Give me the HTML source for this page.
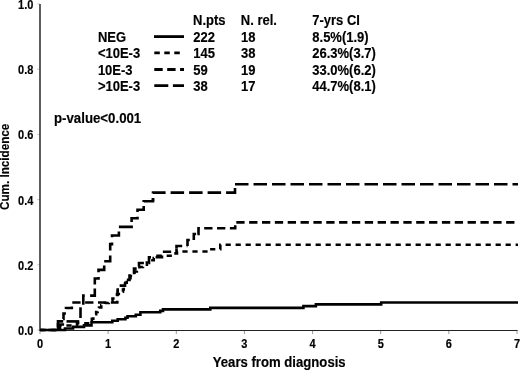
<!DOCTYPE html>
<html><head><meta charset="utf-8"><style>
html,body{margin:0;padding:0;background:#fff;}
svg{display:block;will-change:transform;}
text{font-family:"Liberation Sans",sans-serif;font-weight:bold;fill:#000;stroke:#000;stroke-width:0.15px;}
</style></head><body>
<svg width="520" height="370" viewBox="0 0 520 370">
<rect width="520" height="370" fill="#fff"/>
<line x1="37" x2="40" y1="330.0" y2="330.0" stroke="#ccc" stroke-width="1"/><line x1="37" x2="40" y1="264.8" y2="264.8" stroke="#ccc" stroke-width="1"/><line x1="37" x2="40" y1="199.6" y2="199.6" stroke="#ccc" stroke-width="1"/><line x1="37" x2="40" y1="134.4" y2="134.4" stroke="#ccc" stroke-width="1"/><line x1="37" x2="40" y1="69.2" y2="69.2" stroke="#ccc" stroke-width="1"/><line x1="37" x2="40" y1="4.0" y2="4.0" stroke="#ccc" stroke-width="1"/><line x1="40.0" x2="40.0" y1="330" y2="334" stroke="#999" stroke-width="1"/><line x1="108.1" x2="108.1" y1="330" y2="334" stroke="#999" stroke-width="1"/><line x1="176.3" x2="176.3" y1="330" y2="334" stroke="#999" stroke-width="1"/><line x1="244.4" x2="244.4" y1="330" y2="334" stroke="#999" stroke-width="1"/><line x1="312.6" x2="312.6" y1="330" y2="334" stroke="#999" stroke-width="1"/><line x1="380.7" x2="380.7" y1="330" y2="334" stroke="#999" stroke-width="1"/><line x1="448.8" x2="448.8" y1="330" y2="334" stroke="#999" stroke-width="1"/><line x1="517.0" x2="517.0" y1="330" y2="334" stroke="#999" stroke-width="1"/>
<line x1="40" x2="40" y1="4" y2="330.5" stroke="#181818" stroke-width="1.4"/>
<line x1="39.3" x2="517.5" y1="330.5" y2="330.5" stroke="#222" stroke-width="1.2"/>
<text transform="translate(33.4,335.0) scale(1,1.08)" font-size="11" text-anchor="end" >0.0</text><text transform="translate(33.4,269.8) scale(1,1.08)" font-size="11" text-anchor="end" >0.2</text><text transform="translate(33.4,204.6) scale(1,1.08)" font-size="11" text-anchor="end" >0.4</text><text transform="translate(33.4,139.4) scale(1,1.08)" font-size="11" text-anchor="end" >0.6</text><text transform="translate(33.4,74.2) scale(1,1.08)" font-size="11" text-anchor="end" >0.8</text><text transform="translate(33.4,9.0) scale(1,1.08)" font-size="11" text-anchor="end" >1.0</text><text transform="translate(40.0,348.4) scale(1,1.08)" font-size="11" text-anchor="middle" >0</text><text transform="translate(108.1,348.4) scale(1,1.08)" font-size="11" text-anchor="middle" >1</text><text transform="translate(176.3,348.4) scale(1,1.08)" font-size="11" text-anchor="middle" >2</text><text transform="translate(244.4,348.4) scale(1,1.08)" font-size="11" text-anchor="middle" >3</text><text transform="translate(312.6,348.4) scale(1,1.08)" font-size="11" text-anchor="middle" >4</text><text transform="translate(380.7,348.4) scale(1,1.08)" font-size="11" text-anchor="middle" >5</text><text transform="translate(448.8,348.4) scale(1,1.08)" font-size="11" text-anchor="middle" >6</text><text transform="translate(517.0,348.4) scale(1,1.08)" font-size="11" text-anchor="middle" >7</text>
<text transform="translate(279.2,366.7) scale(1,1.08)" font-size="13.15" text-anchor="middle" >Years from diagnosis</text>
<text transform="translate(9.2,166.8) rotate(-90) scale(1,1.08)" text-anchor="middle" font-size="11.7">Cum. Incidence</text>
<text transform="translate(54,123.3) scale(1,1.08)" font-size="13.25" text-anchor="start" >p-value&lt;0.001</text>
<text transform="translate(193.1,25.4) scale(1,1.08)" font-size="13" text-anchor="start" >N.pts</text><text transform="translate(240.8,25.4) scale(1,1.08)" font-size="13" text-anchor="start" >N. rel.</text><text transform="translate(312.3,25.4) scale(1,1.08)" font-size="13" text-anchor="start" >7-yrs CI</text><text transform="translate(97.9,41.6) scale(1,1.08)" font-size="13" text-anchor="start" >NEG</text><text transform="translate(193.3,41.6) scale(1,1.08)" font-size="13" text-anchor="start" >222</text><text transform="translate(241.0,41.6) scale(1,1.08)" font-size="13" text-anchor="start" >18</text><text transform="translate(312.3,41.6) scale(1,1.08)" font-size="13" text-anchor="start" >8.5%(1.9)</text><text transform="translate(97.9,58.4) scale(1,1.08)" font-size="13" text-anchor="start" >&lt;10E-3</text><text transform="translate(193.3,58.4) scale(1,1.08)" font-size="13" text-anchor="start" >145</text><text transform="translate(241.0,58.4) scale(1,1.08)" font-size="13" text-anchor="start" >38</text><text transform="translate(312.3,58.4) scale(1,1.08)" font-size="13" text-anchor="start" >26.3%(3.7)</text><text transform="translate(97.9,74.7) scale(1,1.08)" font-size="13" text-anchor="start" >10E-3</text><text transform="translate(193.3,74.7) scale(1,1.08)" font-size="13" text-anchor="start" >59</text><text transform="translate(241.0,74.7) scale(1,1.08)" font-size="13" text-anchor="start" >19</text><text transform="translate(312.3,74.7) scale(1,1.08)" font-size="13" text-anchor="start" >33.0%(6.2)</text><text transform="translate(97.9,90.6) scale(1,1.08)" font-size="13" text-anchor="start" >&gt;10E-3</text><text transform="translate(193.3,90.6) scale(1,1.08)" font-size="13" text-anchor="start" >38</text><text transform="translate(241.0,90.6) scale(1,1.08)" font-size="13" text-anchor="start" >17</text><text transform="translate(312.3,90.6) scale(1,1.08)" font-size="13" text-anchor="start" >44.7%(8.1)</text>
<line x1="154" x2="184" y1="36.6" y2="36.6" stroke="#000" stroke-width="2.8"/>
<line x1="154.3" x2="184" y1="52.8" y2="52.8" stroke="#000" stroke-width="2.8" stroke-dasharray="5.5 4.5"/>
<line x1="154.3" x2="184" y1="69.5" y2="69.5" stroke="#000" stroke-width="2.8" stroke-dasharray="8.4 4.5"/>
<line x1="154.3" x2="184" y1="85.7" y2="85.7" stroke="#000" stroke-width="2.8" stroke-dasharray="14 4.6"/>

<path d="M40.00,330.00L65.00,330.00L65.00,328.46L73.00,328.46L73.00,326.90L84.00,326.90L84.00,325.40L91.50,325.40L91.50,322.30L112.30,322.30L112.30,320.80L117.70,320.80L117.70,319.30L125.40,319.30L125.40,317.80L127.50,317.80L127.50,316.20L135.80,316.20L135.80,314.70L140.40,314.70L140.40,312.30L160.20,312.30L160.20,310.90L163.00,310.90L163.00,309.40L210.30,309.40L210.30,307.90L303.40,307.90L303.40,306.10L315.90,306.10L315.90,304.40L381.20,304.40L381.20,302.50L518.00,302.50" stroke="#000" stroke-width="2.6" fill="none"/><path d="M40.00,330.00L57.50,330.00L57.50,327.75L60.00,327.75L60.00,325.50L77.00,325.50L77.00,323.25L90.43,323.25L90.43,321.00L91.87,321.00L91.87,318.75L93.30,318.75L93.30,316.50L94.74,316.50L94.74,314.25L96.17,314.25L96.17,312.00L97.61,312.00L97.61,309.75L99.04,309.75L99.04,307.50L101.25,307.50L101.25,305.25L105.00,305.25L105.00,303.00L108.75,303.00L108.75,300.75L112.50,300.75L112.50,298.50L115.50,298.50L115.50,296.25L117.00,296.25L117.00,294.00L122.25,294.00L122.25,291.75L123.00,291.75L123.00,289.50L123.75,289.50L123.75,287.25L124.50,287.25L124.50,285.00L125.25,285.00L125.25,282.75L126.73,282.75L126.73,280.50L128.57,280.50L128.57,278.25L130.46,278.25L130.46,276.00L132.54,276.00L132.54,273.75L134.62,273.75L134.62,271.50L136.86,271.50L136.86,269.25L139.43,269.25L139.43,267.00L142.92,267.00L142.92,264.75L146.89,264.75L146.89,262.50L151.14,262.50L151.14,260.25L153.75,260.25L153.75,258.00L157.57,258.00L157.57,255.75L172.00,255.75L172.00,253.40L177.00,253.40L177.00,251.50L208.50,251.50L208.50,249.20L220.30,249.20L220.30,244.70L225.60,244.70" stroke="#000" stroke-width="2.6" fill="none" stroke-dasharray="5.2 4.8" stroke-dashoffset="9.10"/><path d="M225.60,244.70L518.00,244.70" stroke="#000" stroke-width="2.6" fill="none" stroke-dasharray="5.2 4.8" stroke-dashoffset="0.00"/><path d="M40.00,330.00L58.00,330.00L58.00,324.50L62.80,324.50L62.80,319.00L63.50,319.00L63.50,313.50L66.00,313.50L66.00,308.00L71.80,308.00L71.80,302.50L72.30,302.50" stroke="#000" stroke-width="2.6" fill="none" stroke-dasharray="8.3 4.55" stroke-dashoffset="4.45"/><path d="M72.30,302.50L117.30,302.50L117.30,296.90L117.50,296.90L117.50,291.20L117.70,291.20L117.70,285.60L125.00,285.60L125.00,279.90L129.50,279.90L129.50,274.30L134.00,274.30L134.00,268.60L139.00,268.60L139.00,263.00L149.00,263.00L149.00,257.30L162.00,257.30L162.00,251.70L176.50,251.70L176.50,248.60" stroke="#000" stroke-width="2.6" fill="none" stroke-dasharray="8.3 4.55" stroke-dashoffset="0.00"/><path d="M176.50,248.60L176.50,246.00L187.50,246.00" stroke="#000" stroke-width="2.6" fill="none" stroke-dasharray="8.3 4.55" stroke-dashoffset="0.00"/><path d="M187.50,246.00L187.50,240.00L193.80,240.00" stroke="#000" stroke-width="2.6" fill="none" stroke-dasharray="8.3 4.55" stroke-dashoffset="0.00"/><path d="M193.80,240.00L193.80,234.00L197.40,234.00" stroke="#000" stroke-width="2.6" fill="none" stroke-dasharray="8.3 4.55" stroke-dashoffset="0.00"/><path d="M197.40,234.00L198.50,234.00L198.50,228.20L204.20,228.20" stroke="#000" stroke-width="2.6" fill="none" stroke-dasharray="8.3 4.55" stroke-dashoffset="0.00"/><path d="M204.20,228.20L235.20,228.20L235.20,222.40L236.30,222.40" stroke="#000" stroke-width="2.6" fill="none" stroke-dasharray="8.3 4.55" stroke-dashoffset="0.00"/><path d="M236.30,222.40L518.00,222.40" stroke="#000" stroke-width="2.6" fill="none" stroke-dasharray="8.3 4.55" stroke-dashoffset="0.00"/><path d="M153.00,201.20L153.00,193.50" stroke="#000" stroke-width="2.6" fill="none" stroke-dasharray="13.5 5.0" stroke-dashoffset="10.80"/><path d="M153.00,193.50L153.00,192.60L235.00,192.60L235.00,184.30" stroke="#000" stroke-width="2.6" fill="none" stroke-dasharray="13.5 5.0" stroke-dashoffset="0.00"/><path d="M235.00,184.30L518.00,184.30" stroke="#000" stroke-width="2.6" fill="none" stroke-dasharray="13.5 5.0" stroke-dashoffset="0.00"/><path d="M58.00,330.50L58.00,321.40L63.20,321.40" stroke="#000" stroke-width="2.6" fill="none"/><path d="M66.50,321.40L79.30,321.40" stroke="#000" stroke-width="2.6" fill="none"/><path d="M80.50,318.00L80.50,307.30" stroke="#000" stroke-width="2.6" fill="none"/><path d="M83.30,304.70L83.30,295.60L84.80,295.60" stroke="#000" stroke-width="2.6" fill="none"/><path d="M90.10,295.60L94.80,295.60L94.80,288.40" stroke="#000" stroke-width="2.6" fill="none"/><path d="M94.80,284.60L94.80,278.50L98.50,278.50L98.50,277.00" stroke="#000" stroke-width="2.6" fill="none"/><path d="M98.50,272.20L98.50,269.90L104.20,269.90L104.20,265.60" stroke="#000" stroke-width="2.6" fill="none"/><path d="M104.20,261.30L110.20,261.30L110.20,255.40" stroke="#000" stroke-width="2.6" fill="none"/><path d="M110.20,250.50L110.20,244.10L112.00,244.10L112.00,242.50" stroke="#000" stroke-width="2.6" fill="none"/><path d="M112.00,237.20L112.00,235.50L118.90,235.50L118.90,231.60" stroke="#000" stroke-width="2.6" fill="none"/><path d="M118.90,226.90L131.60,226.90L131.60,225.60" stroke="#000" stroke-width="2.6" fill="none"/><path d="M131.60,222.00L131.60,218.30L137.50,218.30L137.50,216.80" stroke="#000" stroke-width="2.6" fill="none"/><path d="M137.50,212.00L137.50,209.70L143.70,209.70L143.70,206.00" stroke="#000" stroke-width="2.6" fill="none"/><path d="M143.70,202.00L143.70,201.20L153.00,201.20L153.00,198.00" stroke="#000" stroke-width="2.6" fill="none"/>
</svg>
</body></html>
